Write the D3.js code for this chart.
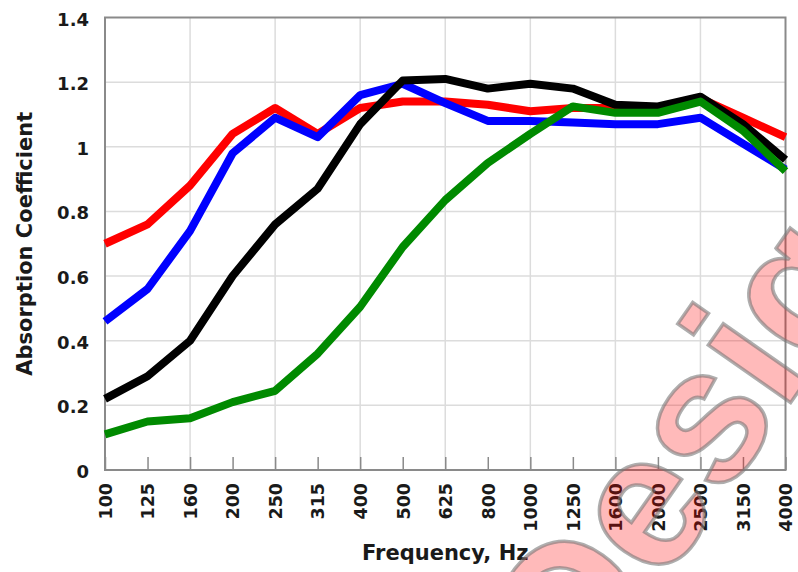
<!DOCTYPE html>
<html>
<head>
<meta charset="utf-8">
<script src="https://cdn.jsdelivr.net/npm/d3@7"></script>
<style>
    html, body { margin: 0; padding: 0; background: #fff; }
</style>
</head>
<body>
<div id="wrapper"></div>
<script>

// data

const frequencies = ["100", "125", "160", "200", "250", "315", "400", "500", "625",
                     "800", "1000", "1250", "1600", "2000", "2500", "3150", "4000"];

const redValues   = [0.70, 0.76, 0.88, 1.04, 1.12, 1.04, 1.12, 1.14, 1.14,
                     1.13, 1.11, 1.12, 1.12, 1.12, 1.15, 1.09, 1.03];
const blueValues  = [0.46, 0.56, 0.74, 0.98, 1.09, 1.03, 1.16, 1.195, 1.135,
                     1.08, 1.08, 1.075, 1.07, 1.07, 1.09, 1.01, 0.93];
const blackValues = [0.22, 0.29, 0.40, 0.60, 0.76, 0.87, 1.07, 1.205, 1.21,
                     1.18, 1.195, 1.18, 1.13, 1.125, 1.155, 1.07, 0.96];
const greenValues = [0.11, 0.15, 0.16, 0.21, 0.245, 0.36, 0.505, 0.69, 0.835,
                     0.95, 1.04, 1.125, 1.105, 1.105, 1.14, 1.05, 0.925];

const yTicks = [0, 0.2, 0.4, 0.6, 0.8, 1, 1.2, 1.4];
const gridFrequencies = ["160", "250", "400", "625", "1000", "1600", "2500"];

const seriesList = [
    { color: "#ff0000", values: redValues },
    { color: "#0000ff", values: blueValues },
    { color: "#000000", values: blackValues },
    { color: "#008a00", values: greenValues }
];

function drawChart() {

    // specify chart dimensions

    const dms = {
        width: 798,
        height: 572,
        margins: {
            top: 17.5,
            right: 12.5,
            left: 105,
            bottom: 102
        }
    };
    dms.innerWidth = dms.width - dms.margins.left - dms.margins.right;
    dms.innerHeight = dms.height - dms.margins.top - dms.margins.bottom;

    const font = "'DejaVu Sans', sans-serif";

    // draw canvas

    const wrapper = d3.select("#wrapper")
                        .append("svg")
                            .attr("width", dms.width)
                            .attr("height", dms.height)
                            .style("overflow", "hidden");

    const inner = wrapper
                    .append("g")
                    .attr("transform", `translate(${dms.margins.left},${dms.margins.top})`);

    // create scales

    const xScale = d3
                    .scalePoint()
                    .domain(frequencies)
                    .range([0, dms.innerWidth]);

    const yScale = d3
                    .scaleLinear()
                    .domain([0, 1.4])
                    .range([dms.innerHeight, 0]);

    // grid

    inner.append("g")
        .selectAll("line")
        .data(yTicks.slice(1, -1))
        .join("line")
            .attr("x1", 0)
            .attr("x2", dms.innerWidth)
            .attr("y1", d => yScale(d))
            .attr("y2", d => yScale(d))
            .attr("stroke", "#dcdcdc")
            .attr("stroke-width", 1.5);

    inner.append("g")
        .selectAll("line")
        .data(gridFrequencies)
        .join("line")
            .attr("x1", d => xScale(d))
            .attr("x2", d => xScale(d))
            .attr("y1", 0)
            .attr("y2", dms.innerHeight)
            .attr("stroke", "#dcdcdc")
            .attr("stroke-width", 1.5);

    // x ticks, inside the frame

    const xAxisGenerator = d3
                            .axisBottom(xScale)
                            .tickSize(-13)
                            .tickFormat(d => d);

    const xAxis = inner
                    .append("g")
                    .attr("transform", `translate(0,${dms.innerHeight})`)
                    .call(xAxisGenerator);

    xAxis.select(".domain").remove();
    xAxis.selectAll(".tick line")
        .attr("stroke", "#8a8a8a")
        .attr("stroke-width", 1.5);
    xAxis.selectAll(".tick text")
        .attr("transform", "rotate(-90)")
        .attr("x", -13)
        .attr("y", 0)
        .attr("dy", "0.36em")
        .attr("text-anchor", "end")
        .attr("fill", "#1a1a1a")
        .style("font-family", font)
        .style("font-weight", "bold")
        .style("font-size", "17.5px");

    // y labels

    const yAxisGenerator = d3
                            .axisLeft(yScale)
                            .tickValues(yTicks)
                            .tickSize(0)
                            .tickPadding(16)
                            .tickFormat(d => d3.format("~g")(d));

    const yAxis = inner
                    .append("g")
                    .call(yAxisGenerator);

    yAxis.select(".domain").remove();
    yAxis.selectAll(".tick text")
        .attr("dy", "0.42em")
        .attr("fill", "#1a1a1a")
        .style("font-family", font)
        .style("font-weight", "bold")
        .style("font-size", "18px");

    // frame

    inner.append("rect")
        .attr("x", 0)
        .attr("y", 0)
        .attr("width", dms.innerWidth)
        .attr("height", dms.innerHeight)
        .attr("fill", "none")
        .attr("stroke", "#8a8a8a")
        .attr("stroke-width", 2);

    // draw data

    const lineGenerator = d3.line()
                            .x((d, i) => xScale(frequencies[i]))
                            .y(d => yScale(d));

    inner.append("g")
        .selectAll("path")
        .data(seriesList)
        .join("path")
            .attr("d", d => lineGenerator(d.values))
            .attr("fill", "none")
            .attr("stroke", d => d.color)
            .attr("stroke-width", 8)
            .attr("stroke-linejoin", "round")
            .attr("stroke-linecap", "butt");

    // axis titles

    wrapper.append("text")
        .attr("x", dms.margins.left + dms.innerWidth / 2)
        .attr("y", 560)
        .attr("text-anchor", "middle")
        .attr("fill", "#1a1a1a")
        .style("font-family", font)
        .style("font-weight", "bold")
        .style("font-size", "21px")
        .text("Frequency, Hz");

    wrapper.append("text")
        .attr("transform", `translate(32,${dms.margins.top + dms.innerHeight / 2}) rotate(-90)`)
        .attr("text-anchor", "middle")
        .attr("fill", "#1a1a1a")
        .style("font-family", font)
        .style("font-weight", "bold")
        .style("font-size", "21px")
        .text("Absorption Coefficient");

    // watermark on top

    wrapper.append("text")
        .attr("transform", "translate(583,699) rotate(-55)")
        .attr("fill", "rgba(255,0,0,0.27)")
        .attr("stroke", "rgba(120,120,120,0.6)")
        .attr("stroke-width", 3.5)
        .style("font-family", "'Liberation Sans', Arial, sans-serif")
        .style("font-weight", "bold")
        .style("font-size", "190px")
        .text("Design");
}

drawChart();
</script>
</body>
</html>
